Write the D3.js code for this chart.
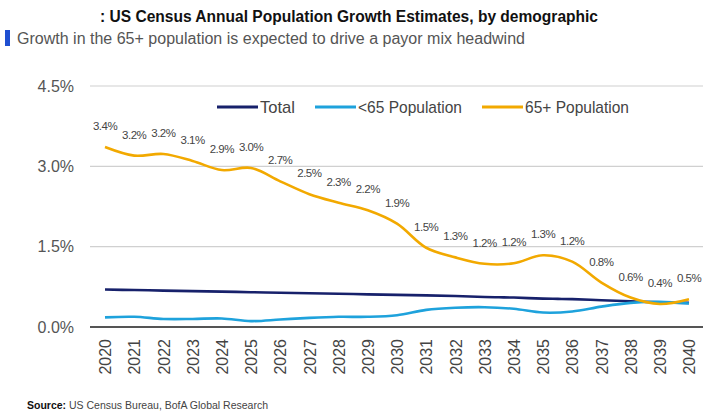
<!DOCTYPE html>
<html><head><meta charset="utf-8">
<script src="https://cdn.jsdelivr.net/npm/d3@7"></script>
<style>
body{margin:0;background:#fff;}
text{font-family:"Liberation Sans Narrow","Arial Narrow","Liberation Sans",sans-serif;}
</style></head>
<body><svg id="c" width="714" height="415"></svg>
<script>
const years = d3.range(2020, 2041).map(String);
const total = [0.70,0.69,0.68,0.67,0.66,0.65,0.64,0.63,0.62,0.61,0.60,0.59,0.58,0.56,0.55,0.53,0.52,0.50,0.48,0.46,0.45];
const under65 = [0.18,0.19,0.15,0.15,0.16,0.11,0.14,0.17,0.19,0.19,0.22,0.32,0.36,0.37,0.34,0.27,0.29,0.38,0.45,0.47,0.44];
const over65 = [3.36,3.20,3.23,3.10,2.93,2.97,2.72,2.48,2.32,2.18,1.93,1.48,1.30,1.18,1.19,1.34,1.22,0.83,0.55,0.43,0.52];
const over65Labels = ["3.4%","3.2%","3.2%","3.1%","2.9%","3.0%","2.7%","2.5%","2.3%","2.2%","1.9%","1.5%","1.3%","1.2%","1.2%","1.3%","1.2%","0.8%","0.6%","0.4%","0.5%"];
const yTicks = [0, 1.5, 3.0, 4.5];
const seriesNames = ["Total","<65 Population","65+ Population"];
const colors = ["#17216b","#1ea2dc","#f2a900"];

const svg = d3.select("#c");
const x = d3.scalePoint().domain(years).range([105, 689]);
const y = d3.scaleLinear().domain([0, 4.5]).range([327, 86]);

// title
svg.append("text").attr("x",100).attr("y",22).attr("font-size",16).attr("font-weight","bold").attr("fill","#111")
  .attr("textLength",498).attr("lengthAdjust","spacingAndGlyphs")
  .text(": US Census Annual Population Growth Estimates, by demographic");
svg.append("rect").attr("x",5).attr("y",30).attr("width",5).attr("height",16).attr("fill","#1f4fd1");
svg.append("text").attr("x",17).attr("y",44).attr("font-size",16).attr("fill","#555")
  .attr("textLength",508).attr("lengthAdjust","spacingAndGlyphs")
  .text("Growth in the 65+ population is expected to drive a payor mix headwind");

// grid
const yAxis = d3.axisLeft(y).tickValues(yTicks).tickFormat(d => d.toFixed(1)+"%").tickSize(0).tickPadding(0);
const ga = svg.append("g").attr("transform","translate(74,0)").call(yAxis);
ga.select(".domain").remove();
ga.selectAll("text").attr("font-size",16).attr("fill","#555").attr("font-family",null);
svg.append("g").selectAll("line").data(yTicks.filter(d=>d>0)).join("line")
  .attr("x1",90).attr("x2",703).attr("y1",d=>y(d)).attr("y2",d=>y(d))
  .attr("stroke","#d0d0d0").attr("stroke-width",1.2);
svg.append("line").attr("x1",90).attr("x2",703).attr("y1",y(0)).attr("y2",y(0)).attr("stroke","#555").attr("stroke-width",2);

// x axis
const xAxis = d3.axisBottom(x).tickSize(0).tickPadding(0);
const gx = svg.append("g").attr("transform",`translate(0,${y(0)})`).call(xAxis);
gx.select(".domain").remove();
gx.selectAll("text").attr("font-size",16).attr("fill","#444").attr("font-family",null)
  .attr("transform","rotate(-90)").attr("text-anchor","end").attr("dy","0.35em").attr("x",-12).attr("y",0);

// lines
const line = d3.line().x((d,i)=>x(years[i])).y(d=>y(d)).curve(d3.curveCatmullRom.alpha(0.5));
[total, under65, over65].forEach((s,k)=>{
  svg.append("path").datum(s).attr("d",line).attr("fill","none").attr("stroke",colors[k]).attr("stroke-width",2.6);
});

// labels
svg.append("g").selectAll("text").data(over65).join("text")
  .attr("x",(d,i)=>x(years[i])).attr("y",d=>y(d)-17).attr("text-anchor","middle")
  .attr("font-size",11.5).attr("fill","#444").attr("letter-spacing","-0.5")
  .text((d,i)=>over65Labels[i]);

// legend
const legX = [217, 315, 482];
const legW = [35, 104, 104];
seriesNames.forEach((n,k)=>{
  svg.append("line").attr("x1",legX[k]).attr("x2",legX[k]+41).attr("y1",107).attr("y2",107).attr("stroke",colors[k]).attr("stroke-width",3);
  svg.append("text").attr("x",legX[k]+43).attr("y",113).attr("font-size",17).attr("fill","#444")
    .attr("textLength",legW[k]).attr("lengthAdjust","spacingAndGlyphs").text(n);
});

// source
const src = svg.append("text").attr("x",27).attr("y",409).attr("font-size",10.5).attr("fill","#444");
src.append("tspan").attr("font-weight","bold").attr("fill","#111").text("Source:");
src.append("tspan").text("  US Census  Bureau, BofA Global Research");
</script></body></html>
